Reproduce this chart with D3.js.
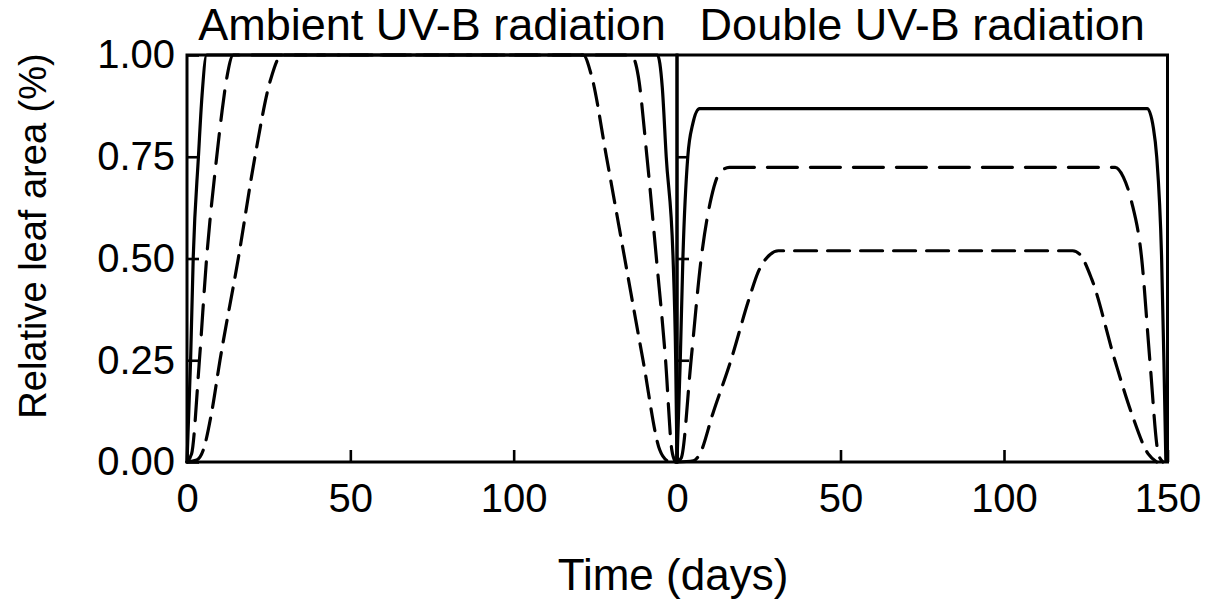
<!DOCTYPE html>
<html>
<head>
<meta charset="utf-8">
<script src="https://cdn.jsdelivr.net/npm/d3@7"></script>
<style>
  html, body { margin: 0; padding: 0; background: #fff; }
  svg { display: block; }
  text { font-family: "Liberation Sans", Arial, sans-serif; fill: #000; }
</style>
</head>
<body>
<svg id="chart" width="1216" height="604"></svg>
<script>
// Relative leaf area over the growing season (days), two UV-B treatments.
// Each series is a list of [day, relative leaf area] points.

// Ambient UV-B radiation
const ambientSolid = [[0,0],[1.1,0.25],[1.9,0.5],[3.5,0.75],[4.6,0.9],[6,1],
  [144,1],[145.5,0.92],[146.7,0.75],[148.8,0.5],[149.6,0.25],[150,0]];
const ambientDash = [[0,0],[1.4,0.02],[3.8,0.25],[6,0.5],[9.1,0.75],[10.7,0.86],[12.1,0.94],[14.2,1],
  [136,1],[138.1,0.95],[140.8,0.75],[143.7,0.5],[146.5,0.25],[148.4,0.03],[149.5,0]];
const ambientLongDash = [[0,0],[3,0.005],[5,0.03],[7.5,0.12],[10.1,0.25],[15.7,0.5],[20.8,0.75],[25.6,0.94],[29,1],
  [121.3,1],[123.8,0.95],[128.4,0.75],[134,0.5],[139.6,0.25],[144.7,0.03],[147.5,0]];

// Double UV-B radiation
const doubleSolid = [[0,0],[1,0.25],[1.8,0.5],[3.3,0.75],[4.8,0.83],[6.9,0.868],
  [143.8,0.868],[145.7,0.82],[146.7,0.75],[148.2,0.5],[148.9,0.25],[149.5,0]];
const doubleDash = [[0,0],[1.3,0.01],[4.3,0.25],[7.4,0.5],[10.5,0.65],[13,0.71],[16,0.724],
  [134,0.724],[136.5,0.7],[139,0.64],[142.1,0.5],[144.6,0.25],[147.2,0.02],[148.6,0]];
const doubleLongDash = [[0,0],[5,0.003],[7,0.02],[11,0.12],[16.5,0.25],[22,0.4],[25,0.47],[28.5,0.51],[31,0.519],
  [121,0.519],[123.2,0.51],[126.8,0.45],[133.9,0.25],[139,0.12],[144.1,0.02],[146.7,0]];

const panelTitles = ["Ambient UV-B radiation", "Double UV-B radiation"];
const yTicks = [0, 0.25, 0.5, 0.75, 1];
const leftXTicks = [0, 50, 100];
const rightXTicks = [0, 50, 100, 150];
const yTitle = "Relative leaf area (%)";
const xTitle = "Time (days)";

const svg = d3.select("#chart");
svg.append("rect").attr("width", 1216).attr("height", 604).attr("fill", "#fff");

const y = d3.scaleLinear().domain([0, 1]).range([462, 55]);
const xLeft = d3.scaleLinear().domain([0, 150]).range([187, 677]);
const xRight = d3.scaleLinear().domain([0, 150]).range([677, 1167.5]);

const styles = {
  solid: null,
  dash: "30 13",
  longDash: "22 11"
};

const panels = [
  { x: xLeft, title: panelTitles[0], xTicks: leftXTicks, yLabels: true,
    series: [[ambientSolid, "solid"], [ambientDash, "dash"], [ambientLongDash, "longDash"]] },
  { x: xRight, title: panelTitles[1], xTicks: rightXTicks, yLabels: false,
    series: [[doubleSolid, "solid"], [doubleDash, "dash"], [doubleLongDash, "longDash"]] }
];

panels.forEach(p => {
  const g = svg.append("g");
  const line = d3.line()
    .x(d => p.x(d[0]))
    .y(d => y(d[1]))
    .curve(d3.curveMonotoneX);

  // curves
  p.series.forEach(([data, style]) => {
    g.append("path")
      .datum(data)
      .attr("d", line)
      .attr("fill", "none")
      .attr("stroke", "#000")
      .attr("stroke-width", 3.2)
      .attr("stroke-linecap", style === "solid" ? "butt" : "round")
      .attr("stroke-linejoin", "round")
      .attr("stroke-dasharray", styles[style]);
  });

  // left axis, ticks pointing inward
  const yAxis = d3.axisLeft(y)
    .tickValues(p.yLabels ? yTicks : yTicks.slice(1, 4))
    .tickSize(-12)
    .tickPadding(12)
    .tickFormat(p.yLabels ? d3.format(".2f") : () => "");
  const ya = g.append("g")
    .attr("transform", `translate(${p.x.range()[0]},0)`)
    .call(yAxis);
  ya.select(".domain").remove();
  ya.selectAll(".tick line").attr("stroke", "#000").attr("stroke-width", 2.6);
  ya.selectAll(".tick text").attr("font-size", 40).attr("font-family", null);

  // bottom axis, ticks pointing inward
  const xAxis = d3.axisBottom(p.x)
    .tickValues(p.xTicks)
    .tickSize(-12)
    .tickPadding(22)
    .tickFormat(d3.format("d"));
  const xa = g.append("g")
    .attr("transform", `translate(0,${y.range()[0]})`)
    .call(xAxis);
  xa.select(".domain").remove();
  xa.selectAll(".tick line").attr("stroke", "#000").attr("stroke-width", 2.6);
  xa.selectAll(".tick text").attr("font-size", 40).attr("font-family", null);

  // frame
  const [x0, x1] = p.x.range();
  g.append("rect")
    .attr("x", x0).attr("y", y(1))
    .attr("width", x1 - x0).attr("height", y(0) - y(1))
    .attr("fill", "none")
    .attr("stroke", "#000")
    .attr("stroke-width", 3);

  // panel title
  g.append("text")
    .attr("x", (x0 + x1) / 2)
    .attr("y", 40)
    .attr("text-anchor", "middle")
    .attr("font-size", 45)
    .text(p.title);
});

// axis titles
svg.append("text")
  .attr("transform", "translate(46,236) rotate(-90)")
  .attr("text-anchor", "middle")
  .attr("font-size", 38)
  .text(yTitle);

svg.append("text")
  .attr("x", 673)
  .attr("y", 590)
  .attr("text-anchor", "middle")
  .attr("font-size", 44)
  .text(xTitle);
</script>
</body>
</html>
